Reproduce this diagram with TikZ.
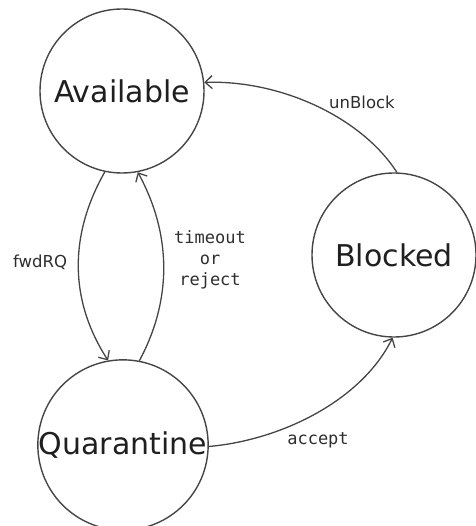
\documentclass[tikz,border=0pt]{standalone}
\usepackage{fontspec}
\setmainfont{DejaVu Sans}
\newfontfamily\labmono{DejaVu Sans Mono}
\usetikzlibrary{arrows.meta}
\definecolor{ink}{HTML}{454545}
\tikzset{
  state/.style={circle,draw=ink,line width=1.4pt,minimum size=164pt,inner sep=0pt,
    font=\fontsize{30}{33}\selectfont,text=black!88},
  trans/.style={draw=ink,line width=1.3pt,-{Straight Barb[length=7pt,width=13pt,line width=1.3pt]}},
  lab/.style={font=\fontsize{16.5}{18}\selectfont,text=black!82},
  monolab/.style={font=\labmono\fontsize{17}{21}\selectfont,text=black!82,align=center}
}
\begin{document}
\begin{tikzpicture}[x=1pt,y=-1pt]
\useasboundingbox (0,0) rectangle (475,526);
\node[state] (av) at (122,91) {Available};
\node[state] (qu) at (123,445) {Quarantine};
\node[state] (bl) at (394,255) {Blocked};

\draw[trans] (av.-102) .. controls (69,235) and (69,300) .. (qu.100);
\draw[trans] (qu.79) .. controls (172,300) and (172,235) .. (av.-79);
\draw[trans] (bl.88) .. controls (362,118) and (282,80) .. (av.6);
\draw[trans] (qu.-1) .. controls (282,440) and (362,400) .. (bl.-91);

\node[lab] (lf) at (40,262) {fwdRQ};
\node[monolab] (lt) at (210,260) {timeout\\or\\reject};
\node[lab] (lu) at (362,102) {unBlock};
\node[monolab] (la) at (318,440) {accept};
\end{tikzpicture}
\end{document}
